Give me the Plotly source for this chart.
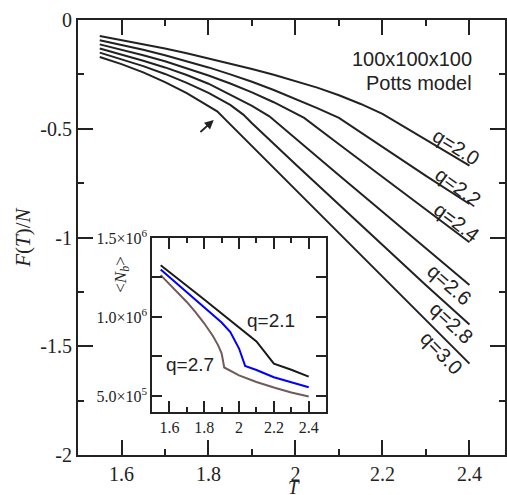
import plotly.graph_objects as go

# Free energy per site F(T)/N for the 100x100x100 Potts model, one curve per q
T_q20 = [1.55, 1.60, 1.65, 1.70, 1.75, 1.80, 1.85, 1.90, 1.95, 2.00, 2.05, 2.10, 2.15, 2.20, 2.30, 2.40]
F_q20 = [-0.074, -0.092, -0.111, -0.131, -0.153, -0.176, -0.200, -0.225, -0.252, -0.280, -0.311, -0.346, -0.386, -0.432, -0.550, -0.670]

T_q22 = [1.55, 1.60, 1.65, 1.70, 1.75, 1.80, 1.85, 1.90, 1.95, 2.00, 2.05, 2.10, 2.20, 2.30, 2.40]
F_q22 = [-0.093, -0.114, -0.137, -0.162, -0.189, -0.218, -0.250, -0.284, -0.322, -0.362, -0.405, -0.450, -0.584, -0.717, -0.846]

T_q24 = [1.55, 1.60, 1.65, 1.70, 1.75, 1.80, 1.85, 1.90, 1.95, 2.00, 2.02, 2.10, 2.20, 2.30, 2.40]
F_q24 = [-0.112, -0.136, -0.162, -0.190, -0.221, -0.255, -0.292, -0.333, -0.378, -0.430, -0.450, -0.571, -0.721, -0.872, -1.022]

T_q26 = [1.55, 1.60, 1.65, 1.70, 1.75, 1.80, 1.85, 1.90, 1.94, 2.00, 2.10, 2.20, 2.30, 2.40]
F_q26 = [-0.131, -0.158, -0.187, -0.218, -0.253, -0.293, -0.343, -0.395, -0.443, -0.546, -0.714, -0.882, -1.050, -1.218]

T_q28 = [1.55, 1.60, 1.65, 1.70, 1.75, 1.80, 1.85, 1.88, 1.90, 2.00, 2.10, 2.20, 2.30, 2.40]
F_q28 = [-0.150, -0.180, -0.212, -0.248, -0.289, -0.335, -0.390, -0.435, -0.475, -0.663, -0.850, -1.037, -1.220, -1.400]

T_q30 = [1.55, 1.60, 1.65, 1.70, 1.75, 1.80, 1.82, 1.85, 1.90, 2.00, 2.10, 2.20, 2.30, 2.40]
F_q30 = [-0.170, -0.203, -0.241, -0.286, -0.336, -0.395, -0.420, -0.480, -0.580, -0.780, -0.980, -1.180, -1.380, -1.580]

curve_labels = ["q=2.0", "q=2.2", "q=2.4", "q=2.6", "q=2.8", "q=3.0"]
label_T = [2.370, 2.374, 2.370, 2.355, 2.359, 2.336]
label_F = [-0.583, -0.766, -0.931, -1.218, -1.394, -1.532]
label_angle = [32, 36, 37, 41, 43, 46]

# Inset: mean number of bonds <N_b> versus T
T_in_q21 = [1.55, 1.60, 1.70, 1.80, 1.90, 2.00, 2.10, 2.20, 2.30, 2.40]
Nb_q21 = [1.327e6, 1.285e6, 1.198e6, 1.110e6, 1.022e6, 0.934e6, 0.845e6, 0.704e6, 0.666e6, 0.622e6]

T_in_mid = [1.55, 1.65, 1.75, 1.85, 1.90, 1.95, 2.00, 2.035, 2.10, 2.20, 2.30, 2.40]
Nb_mid = [1.300e6, 1.205e6, 1.110e6, 1.015e6, 0.965e6, 0.905e6, 0.800e6, 0.690e6, 0.664e6, 0.618e6, 0.585e6, 0.555e6]

T_in_q27 = [1.55, 1.60, 1.65, 1.70, 1.75, 1.80, 1.85, 1.88, 1.90, 1.915, 2.00, 2.10, 2.20, 2.30, 2.40]
Nb_q27 = [1.265e6, 1.210e6, 1.155e6, 1.095e6, 1.030e6, 0.960e6, 0.880e6, 0.820e6, 0.770e6, 0.680e6, 0.630e6, 0.588e6, 0.553e6, 0.522e6, 0.496e6]

main_xticks = [1.6, 1.8, 2.0, 2.2, 2.4]
main_xtext = ["1.6", "1.8", "2", "2.2", "2.4"]
main_yticks = [-2, -1.5, -1, -0.5, 0]
main_ytext = ["-2", "-1.5", "-1", "-0.5", "0"]
inset_yticks = [0.5e6, 1.0e6, 1.5e6]
inset_ytext = ["5.0\u00d710<sup>5</sup>", "1.0\u00d710<sup>6</sup>", "1.5\u00d710<sup>6</sup>"]

INK = "#222222"
SERIF = "Liberation Serif, Times New Roman, serif"
SANS = "Liberation Sans, Arial, sans-serif"

fig = go.Figure()

for T, F in [(T_q20, F_q20), (T_q22, F_q22), (T_q24, F_q24),
             (T_q26, F_q26), (T_q28, F_q28), (T_q30, F_q30)]:
    fig.add_trace(go.Scatter(x=T, y=F, mode="lines", line=dict(color=INK, width=2),
                             showlegend=False, hoverinfo="skip", xaxis="x", yaxis="y"))

for T, N, col in [(T_in_q21, Nb_q21, "#1a1a1a"), (T_in_mid, Nb_mid, "#0000ff"),
                  (T_in_q27, Nb_q27, "#725a5a")]:
    fig.add_trace(go.Scatter(x=T, y=N, mode="lines", line=dict(color=col, width=2),
                             showlegend=False, hoverinfo="skip", xaxis="x2", yaxis="y2"))

axis_common = dict(showgrid=False, zeroline=False, showline=True, linecolor=INK,
                   mirror="ticks", ticks="inside", tickcolor=INK)

fig.update_layout(
    width=507, height=495,
    margin=dict(l=78, r=0, t=20, b=40),
    paper_bgcolor="white", plot_bgcolor="white",
    xaxis=dict(**axis_common, range=[1.5, 2.4817], domain=[0, 1], anchor="y",
               linewidth=2, tickwidth=2, ticklen=15,
               tickmode="array", tickvals=main_xticks, ticktext=main_xtext,
               tickfont=dict(family=SERIF, size=20, color=INK),
               minor=dict(tickmode="array", tickvals=[1.7, 1.9, 2.1, 2.3],
                          ticks="inside", ticklen=6, tickwidth=2, tickcolor=INK)),
    yaxis=dict(**axis_common, range=[-2, 0], domain=[0, 1], anchor="x",
               linewidth=2, tickwidth=2, ticklen=15,
               tickmode="array", tickvals=main_yticks, ticktext=main_ytext,
               tickfont=dict(family=SERIF, size=20, color=INK),
               minor=dict(tickmode="array", tickvals=[-1.75, -1.25, -0.75, -0.25],
                          ticks="inside", ticklen=6, tickwidth=2, tickcolor=INK)),
    xaxis2=dict(**axis_common, range=[1.5, 2.5], domain=[0.1732, 0.5811], anchor="y2",
                linewidth=1.5, tickwidth=1.5, ticklen=11,
                tickmode="array", tickvals=main_xticks, ticktext=main_xtext,
                tickfont=dict(family=SERIF, size=16, color=INK),
                minor=dict(tickmode="array", tickvals=[1.7, 1.9, 2.1, 2.3],
                           ticks="inside", ticklen=5, tickwidth=1.5, tickcolor=INK)),
    yaxis2=dict(**axis_common, range=[0.4e6, 1.5e6], domain=[0.0995, 0.4989], anchor="x2",
                linewidth=1.5, tickwidth=1.5, ticklen=10,
                tickmode="array", tickvals=inset_yticks, ticktext=inset_ytext,
                tickfont=dict(family=SERIF, size=16, color=INK),
                minor=dict(tickmode="array", tickvals=[0.75e6, 1.25e6],
                           ticks="inside", ticklen=10, tickwidth=1.5, tickcolor=INK)),
)

# Axis titles
fig.add_annotation(text="<i>T</i>", xref="paper", yref="paper", x=0.506, y=-0.0747,
                   xanchor="center", yanchor="middle", height=16, showarrow=False,
                   font=dict(family=SERIF, size=19, color=INK))
fig.add_annotation(text="<i>F</i>(<i>T</i>)/<i>N</i>", xref="paper", yref="paper",
                   x=-0.1305, y=0.50, xanchor="center", yanchor="middle", textangle=-90,
                   showarrow=False, font=dict(family=SERIF, size=21, color=INK))
fig.add_annotation(text="&lt;<i>N</i><sub><i>b</i></sub>&gt;", xref="paper", yref="paper",
                   x=0.1026, y=0.414, xanchor="center", yanchor="middle", textangle=-90,
                   showarrow=False, font=dict(family=SERIF, size=17, color=INK))

# System description
fig.add_annotation(text="100x100x100", xref="x", yref="y", x=2.411, y=-0.181,
                   xanchor="right", showarrow=False, font=dict(family=SANS, size=20, color=INK))
fig.add_annotation(text="Potts model", xref="x", yref="y", x=2.411, y=-0.291,
                   xanchor="right", showarrow=False, font=dict(family=SANS, size=20, color=INK))

# Curve labels
for txt, tx, fy, ang in zip(curve_labels, label_T, label_F, label_angle):
    fig.add_annotation(text=txt, xref="x", yref="y", x=tx, y=fy, textangle=ang,
                       showarrow=False, font=dict(family=SANS, size=20, color=INK))

# Arrow marking the kink of the q=3.0 curve
fig.add_annotation(x=1.812, y=-0.460, ax=1.778, ay=-0.521, xref="x", yref="y",
                   axref="x", ayref="y", text="", showarrow=True, arrowhead=2,
                   arrowsize=1, arrowwidth=1.8, arrowcolor=INK)

# Inset labels
fig.add_annotation(text="q=2.1", xref="x2", yref="y2", x=2.184, y=0.975e6,
                   showarrow=False, font=dict(family=SANS, size=19, color=INK))
fig.add_annotation(text="q=2.7", xref="x2", yref="y2", x=1.72, y=0.696e6,
                   showarrow=False, font=dict(family=SANS, size=19, color=INK))

fig.write_html("out.html")
